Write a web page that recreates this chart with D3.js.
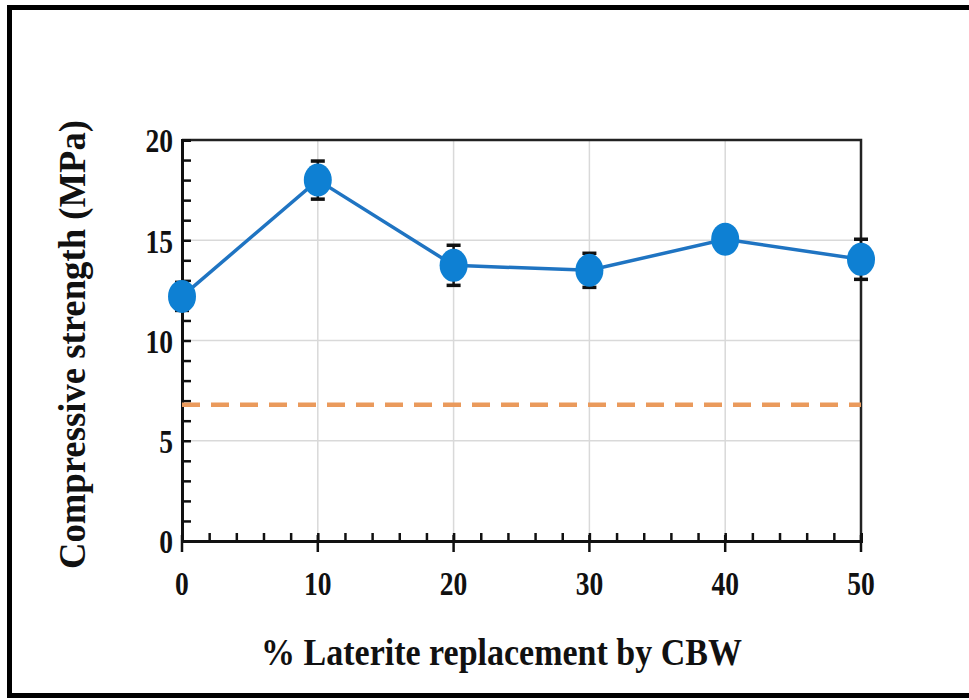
<!DOCTYPE html>
<html>
<head>
<meta charset="utf-8">
<script src="https://cdn.jsdelivr.net/npm/d3@7"></script>
<style>
  html, body { margin: 0; padding: 0; background: #fff; }
  svg { display: block; }
  text { font-family: "Liberation Serif", "Times New Roman", serif; font-weight: bold; fill: #111; }
</style>
</head>
<body>
<svg id="chart" width="969" height="700"></svg>
<script>
// Compressive strength vs. % laterite replaced by CBW
const replacement = [0, 10, 20, 30, 40, 50];
const strength = [12.2, 18.0, 13.75, 13.5, 15.05, 14.05];
const strengthError = [0.7, 0.95, 1.0, 0.85, 0.45, 1.0];
const requiredStrength = 6.8;          // dashed reference level
const xTicks = [0, 10, 20, 30, 40, 50];
const yTicks = [0, 5, 10, 15, 20];

const svg = d3.select("#chart");
const plotL = 182, plotR = 861, plotT = 140, plotB = 541;

const x = d3.scaleLinear().domain([0, 50]).range([plotL, plotR]);
const y = d3.scaleLinear().domain([0, 20]).range([plotB, plotT]);

// outer frame
svg.append("rect")
  .attr("x", 9.5).attr("y", 7.5)
  .attr("width", 980).attr("height", 688)
  .attr("fill", "none").attr("stroke", "#000").attr("stroke-width", 5);

// gridlines
const g = svg.append("g");
g.selectAll("line.gy").data(yTicks.filter(d => d > 0 && d < 20)).join("line")
  .attr("x1", plotL).attr("x2", plotR)
  .attr("y1", d => y(d)).attr("y2", d => y(d))
  .attr("stroke", "#d9d9d9").attr("stroke-width", 1.5);
g.selectAll("line.gx").data(xTicks.filter(d => d > 0 && d < 50)).join("line")
  .attr("x1", d => x(d)).attr("x2", d => x(d))
  .attr("y1", plotT).attr("y2", plotB)
  .attr("stroke", "#d9d9d9").attr("stroke-width", 1.5);

// top and right box edges
svg.append("path")
  .attr("d", `M${plotL},${plotT}H${plotR}V${plotB}`)
  .attr("fill", "none").attr("stroke", "#222").attr("stroke-width", 2.5);

// y axis: minor ticks every 1 MPa, pointing inward
const yAxis = d3.axisLeft(y).tickValues(d3.range(0, 21, 1)).tickSize(-9).tickFormat("");
svg.append("g").attr("transform", `translate(${plotL},0)`).call(yAxis)
  .call(a => a.select(".domain").attr("stroke", "#111").attr("stroke-width", 3))
  .call(a => a.selectAll(".tick line").attr("stroke", "#111").attr("stroke-width", 2.5));
svg.append("g").selectAll("text").data(yTicks).join("text")
  .attr("transform", d => `translate(${plotL - 9},${y(d)}) scale(0.95,1.18)`)
  .attr("dy", "0.36em")
  .attr("text-anchor", "end").attr("font-size", 29)
  .text(d => d);

// x axis: minor ticks every 2 %, majors crossing the axis
const xAxis = d3.axisBottom(x).tickValues(d3.range(0, 51, 2)).tickSize(-8).tickFormat("");
svg.append("g").attr("transform", `translate(0,${plotB})`).call(xAxis)
  .call(a => a.select(".domain").attr("stroke", "#111").attr("stroke-width", 3))
  .call(a => a.selectAll(".tick line").attr("stroke", "#111").attr("stroke-width", 2.5));
svg.append("g").selectAll("line").data(xTicks).join("line")
  .attr("x1", d => x(d)).attr("x2", d => x(d))
  .attr("y1", plotB - 6).attr("y2", plotB + 11)
  .attr("stroke", "#111").attr("stroke-width", 2.5);
svg.append("g").selectAll("text").data(xTicks).join("text")
  .attr("transform", d => `translate(${x(d)},595) scale(0.95,1.18)`)
  .attr("text-anchor", "middle").attr("font-size", 29)
  .text(d => d);

// dashed reference level
svg.append("line")
  .attr("x1", plotL).attr("x2", plotR)
  .attr("y1", y(requiredStrength)).attr("y2", y(requiredStrength))
  .attr("stroke", "#ea9a5c").attr("stroke-width", 4.5)
  .attr("stroke-dasharray", "18 11");

// error bars
const pts = replacement.map((r, i) => ({ r, v: strength[i], e: strengthError[i] }));
const eb = svg.append("g").attr("stroke", "#111").attr("stroke-width", 2.5);
eb.selectAll("line.stem").data(pts).join("line")
  .attr("x1", d => x(d.r)).attr("x2", d => x(d.r))
  .attr("y1", d => y(d.v - d.e)).attr("y2", d => y(d.v + d.e));
eb.selectAll("line.capT").data(pts).join("line")
  .attr("x1", d => x(d.r) - 7).attr("x2", d => x(d.r) + 7)
  .attr("y1", d => y(d.v + d.e)).attr("y2", d => y(d.v + d.e))
  .attr("stroke-width", 3.5);
eb.selectAll("line.capB").data(pts).join("line")
  .attr("x1", d => x(d.r) - 7).attr("x2", d => x(d.r) + 7)
  .attr("y1", d => y(d.v - d.e)).attr("y2", d => y(d.v - d.e))
  .attr("stroke-width", 3.5);

// series line and markers
svg.append("path").datum(pts)
  .attr("d", d3.line().x(d => x(d.r)).y(d => y(d.v)))
  .attr("fill", "none").attr("stroke", "#1f74c2").attr("stroke-width", 3.5);
svg.append("g").selectAll("ellipse").data(pts).join("ellipse")
  .attr("cx", d => x(d.r)).attr("cy", d => y(d.v))
  .attr("rx", 14).attr("ry", 16.5)
  .attr("fill", "#0e80d3");

// axis titles
svg.append("text")
  .attr("transform", `translate(85,${(plotT + plotB) / 2 + 4}) rotate(-90) scale(1.02,1.08)`)
  .attr("text-anchor", "middle").attr("font-size", 36)
  .text("Compressive strength (MPa)");
svg.append("text")
  .attr("transform", `translate(${(plotL + plotR) / 2 - 20},665) scale(1,1.1)`)
  .attr("text-anchor", "middle").attr("font-size", 34)
  .text("% Laterite replacement by CBW");
</script>
</body>
</html>
